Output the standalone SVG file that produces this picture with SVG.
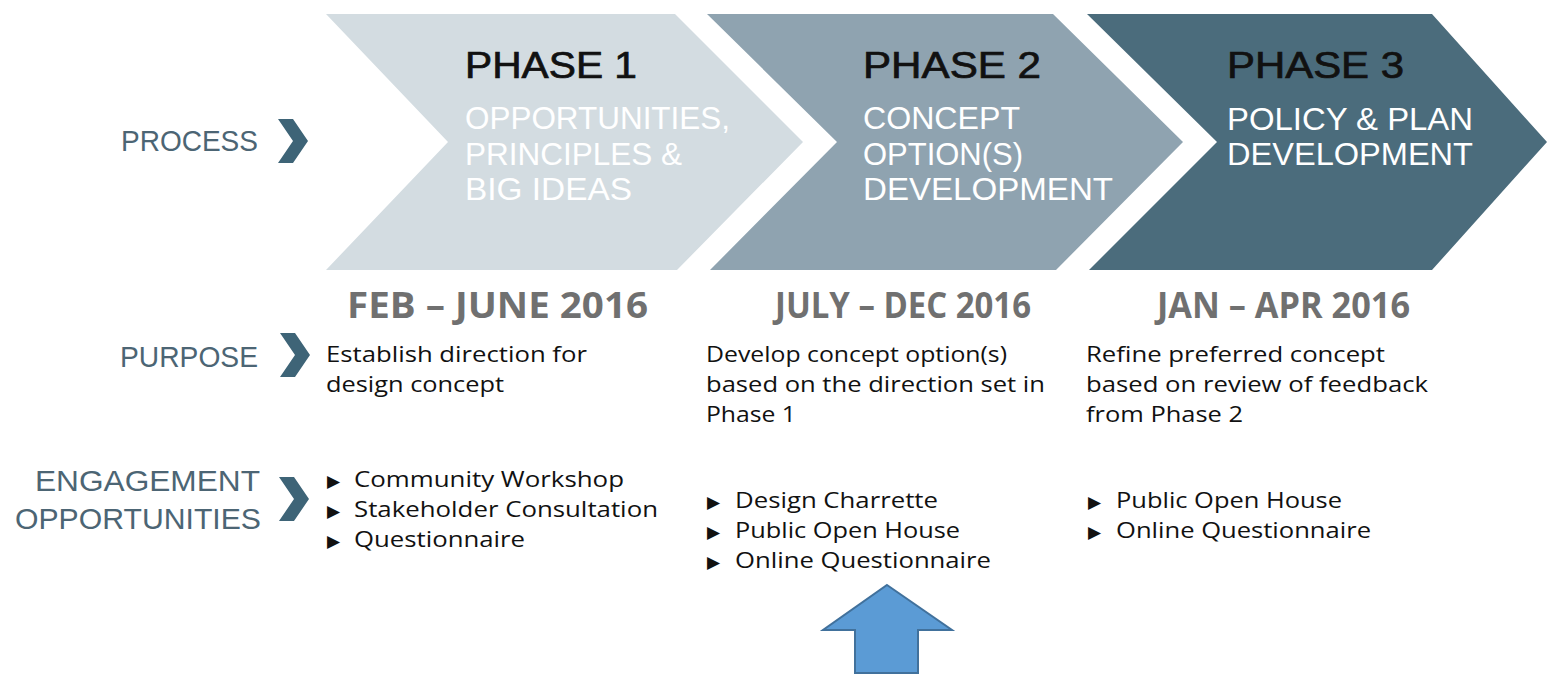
<svg xmlns="http://www.w3.org/2000/svg" width="1547" height="675" viewBox="0 0 1547 675">
<style>
.head{font-family:"Liberation Sans",Arial,sans-serif;font-size:36px;fill:#111;stroke:#111;stroke-width:0.7px}
.sub{font-family:"Liberation Sans",Arial,sans-serif;font-size:32px;fill:#fff}
.lab{font-family:"Liberation Sans",Arial,sans-serif;font-size:30px;fill:#4c6574;text-anchor:end}
.date{font-family:"Open Sans","Liberation Sans",sans-serif;font-weight:bold;font-size:35px;fill:#707070}
.body{font-family:"Open Sans","Liberation Sans",sans-serif;font-size:22px;fill:#111}
.bul{font-family:"DejaVu Sans",sans-serif;font-size:17px;fill:#111}
.ico{fill:#3e6477}
</style>
<rect width="1547" height="675" fill="#fff"/>
<g id="phase1">
<polygon points="326,14 675,14 803,142 677,270 326,270 448,142" fill="#d3dce1"/>
<text class="head" x="465" y="78" textLength="172" lengthAdjust="spacingAndGlyphs">PHASE 1</text>
<text class="sub" x="465" y="129" textLength="265" lengthAdjust="spacingAndGlyphs">OPPORTUNITIES,</text>
<text class="sub" x="465" y="165" textLength="217" lengthAdjust="spacingAndGlyphs">PRINCIPLES &amp;</text>
<text class="sub" x="465" y="200" textLength="167" lengthAdjust="spacingAndGlyphs">BIG IDEAS</text>
</g>
<g id="phase2">
<polygon points="707,14 1053,14 1183,142 1056,270 710,270 837,142" fill="#8fa3b0"/>
<text class="head" x="863" y="78" textLength="178" lengthAdjust="spacingAndGlyphs">PHASE 2</text>
<text class="sub" x="863" y="129" textLength="157" lengthAdjust="spacingAndGlyphs">CONCEPT</text>
<text class="sub" x="863" y="165" textLength="160" lengthAdjust="spacingAndGlyphs">OPTION(S)</text>
<text class="sub" x="863" y="200" textLength="250" lengthAdjust="spacingAndGlyphs">DEVELOPMENT</text>
</g>
<g id="phase3">
<polygon points="1087,14 1432,14 1547,142 1432,270 1089,270 1217,142" fill="#4b6c7c"/>
<text class="head" x="1227" y="78" textLength="177" lengthAdjust="spacingAndGlyphs">PHASE 3</text>
<text class="sub" x="1227" y="130" textLength="246" lengthAdjust="spacingAndGlyphs">POLICY &amp; PLAN</text>
<text class="sub" x="1227" y="165" textLength="246" lengthAdjust="spacingAndGlyphs">DEVELOPMENT</text>
</g>
<g id="labels">
<text class="lab" x="258" y="151" textLength="137" lengthAdjust="spacingAndGlyphs">PROCESS</text>
<polygon class="ico" points="278,119 293,119 308,141 293,163 278,163 293,141"/>
<text class="lab" x="258" y="367" textLength="138" lengthAdjust="spacingAndGlyphs">PURPOSE</text>
<polygon class="ico" points="280,333 295,333 310,355 295,377 280,377 295,355"/>
<text class="lab" x="260" y="491" textLength="225" lengthAdjust="spacingAndGlyphs">ENGAGEMENT</text>
<text class="lab" x="261" y="529" textLength="246" lengthAdjust="spacingAndGlyphs">OPPORTUNITIES</text>
<polygon class="ico" points="279,477 294,477 309,499 294,521 279,521 294,499"/>
</g>
<g id="dates">
<text class="date" x="347" y="318" textLength="301" lengthAdjust="spacingAndGlyphs">FEB – JUNE 2016</text>
<text class="date" x="775" y="318" textLength="256" lengthAdjust="spacingAndGlyphs">JULY – DEC 2016</text>
<text class="date" x="1157" y="318" textLength="253" lengthAdjust="spacingAndGlyphs">JAN – APR 2016</text>
</g>
<g id="purpose">
<text class="body" x="326" y="362" textLength="261" lengthAdjust="spacingAndGlyphs">Establish direction for</text>
<text class="body" x="326" y="392" textLength="178" lengthAdjust="spacingAndGlyphs">design concept</text>
<text class="body" x="706" y="362" textLength="301" lengthAdjust="spacingAndGlyphs">Develop concept option(s)</text>
<text class="body" x="706" y="392" textLength="339" lengthAdjust="spacingAndGlyphs">based on the direction set in</text>
<text class="body" x="706" y="422" textLength="90" lengthAdjust="spacingAndGlyphs">Phase 1</text>
<text class="body" x="1086" y="362" textLength="299" lengthAdjust="spacingAndGlyphs">Refine preferred concept</text>
<text class="body" x="1086" y="392" textLength="342" lengthAdjust="spacingAndGlyphs">based on review of feedback</text>
<text class="body" x="1086" y="422" textLength="157" lengthAdjust="spacingAndGlyphs">from Phase 2</text>
</g>
<g id="engagement">
<text class="bul" x="327" y="487">▶</text>
<text class="body" x="354" y="487" textLength="270" lengthAdjust="spacingAndGlyphs">Community Workshop</text>
<text class="bul" x="327" y="517">▶</text>
<text class="body" x="354" y="517" textLength="304" lengthAdjust="spacingAndGlyphs">Stakeholder Consultation</text>
<text class="bul" x="327" y="547">▶</text>
<text class="body" x="354" y="547" textLength="171" lengthAdjust="spacingAndGlyphs">Questionnaire</text>
<text class="bul" x="707" y="508">▶</text>
<text class="body" x="735" y="508" textLength="203" lengthAdjust="spacingAndGlyphs">Design Charrette</text>
<text class="bul" x="707" y="538">▶</text>
<text class="body" x="735" y="538" textLength="225" lengthAdjust="spacingAndGlyphs">Public Open House</text>
<text class="bul" x="707" y="568">▶</text>
<text class="body" x="735" y="568" textLength="256" lengthAdjust="spacingAndGlyphs">Online Questionnaire</text>
<text class="bul" x="1088" y="508">▶</text>
<text class="body" x="1116" y="508" textLength="226" lengthAdjust="spacingAndGlyphs">Public Open House</text>
<text class="bul" x="1088" y="538">▶</text>
<text class="body" x="1116" y="538" textLength="255" lengthAdjust="spacingAndGlyphs">Online Questionnaire</text>
</g>
<g id="arrow">
<polygon points="887,585 952,630 918,630 918,673 855,673 855,630 823,630" fill="#5b9bd5" stroke="#41719c" stroke-width="2"/>
</g>
</svg>
